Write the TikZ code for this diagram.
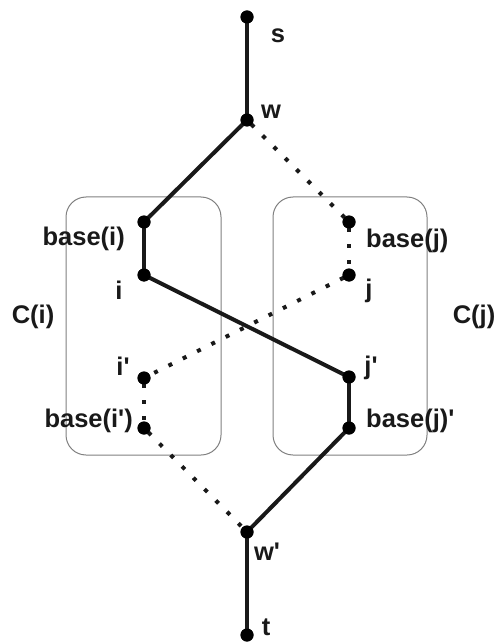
\documentclass[tikz,border=0pt]{standalone}
\usepackage{fontspec}
\setmainfont{Liberation Sans}
\newcommand{\pr}{\textquotesingle}
\begin{document}
\begin{tikzpicture}[x=1pt,y=1pt,
  dot/.style={circle,fill=black,inner sep=0pt,minimum size=13pt},
  lbl/.style={font=\bfseries\fontsize{25.5}{25.5}\selectfont,inner sep=0pt,text=black!90},
  solidline/.style={line width=4pt,draw=black!90},
  dotline/.style={line width=4pt,draw=black!90,dash pattern=on 4pt off 12pt,dash phase=-6pt},
  cbox/.style={draw=black!50,line width=1pt,rounded corners=20pt}]
\useasboundingbox (0,0) rectangle (496,-644);
% boxes
\draw[cbox] (66,-197) rectangle (221,-455);
\draw[cbox] (273,-197) rectangle (427,-455);
% dots
\node[dot] (s) at (247,-17) {};
\node[dot] (w) at (247,-120) {};
\node[dot] (bi) at (144,-222) {};
\node[dot] (i) at (144,-275) {};
\node[dot] (ip) at (144,-378) {};
\node[dot] (bip) at (144,-428) {};
\node[dot] (bj) at (349,-222) {};
\node[dot] (j) at (349,-275) {};
\node[dot] (jp) at (349,-377) {};
\node[dot] (bjp) at (349,-428) {};
\node[dot] (wp) at (247,-532) {};
\node[dot] (t) at (247,-635) {};
% solid path
\draw[solidline] (s.center) -- (w.center);
\draw[solidline] (w.center) -- (bi.center);
\draw[solidline] (bi.center) -- (i.center);
\draw[solidline] (i.center) -- (jp.center);
\draw[solidline] (jp.center) -- (bjp.center);
\draw[solidline] (bjp.center) -- (wp.center);
\draw[solidline] (wp.center) -- (t.center);
% dotted path
\draw[dotline] (w.center) -- (bj.center);
\draw[dotline] (bj.center) -- (j.center);
\draw[dotline] (j.center) -- (ip.center);
\draw[dotline] (ip.center) -- (bip.center);
\draw[dotline] (bip.center) -- (wp.center);
% redraw dots on top
\foreach \n in {s,w,bi,i,ip,bip,bj,j,jp,bjp,wp,t} \fill[black] (\n) circle (6.5pt);
% labels
\node[lbl] (ls) at (278,-36) {s};
\node[lbl] (lw) at (271,-112) {w};
\node[lbl,anchor=east] (lbi) at (125,-239) {base(i)};
\node[lbl] (li) at (119,-290) {i};
\node[lbl] (lip) at (123,-366) {i\pr};
\node[lbl,anchor=east] (lbip) at (133,-421) {base(i\pr)};
\node[lbl,anchor=west] (lbj) at (366,-241) {base(j)};
\node[lbl] (lj) at (369,-291) {j};
\node[lbl] (ljp) at (371,-368) {j\pr};
\node[lbl,anchor=west] (lbjp) at (366,-421) {base(j)\pr};
\node[lbl] (lwp) at (267,-552) {w\pr};
\node[lbl] (lt) at (266,-627) {t};
\node[lbl] (lci) at (33,-317) {C(i)};
\node[lbl] (lcj) at (474,-317) {C(j)};
\end{tikzpicture}
\end{document}
